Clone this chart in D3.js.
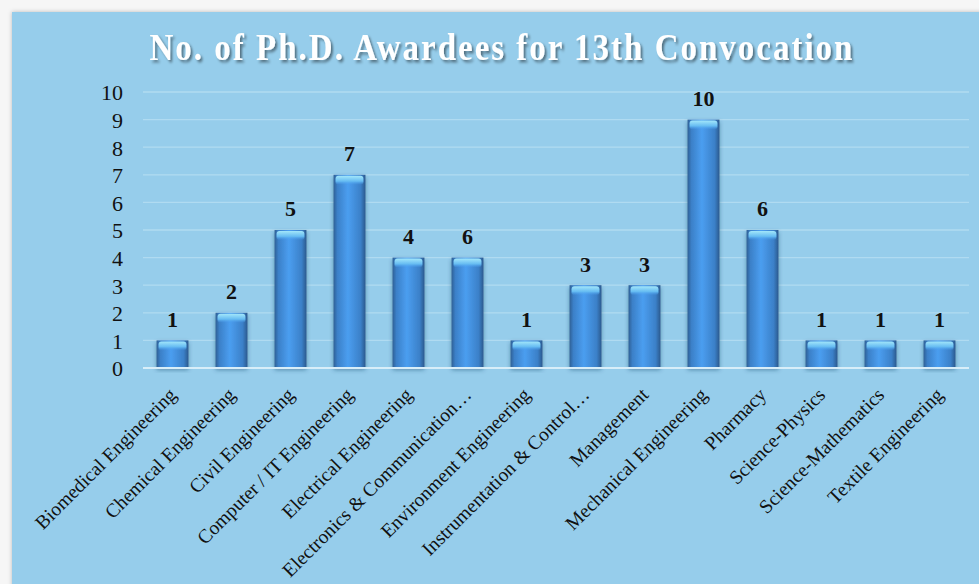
<!DOCTYPE html>
<html>
<head>
<meta charset="utf-8">
<script src="https://cdn.jsdelivr.net/npm/d3@7"></script>
<style>
  body { margin: 0; background: #f6f6f6; }
  svg { display: block; }
</style>
</head>
<body>
<svg id="chart" width="979" height="584"></svg>
<script>
// categories (x axis, truncated as in the chart)
const departments = [
    'Biomedical Engineering', 'Chemical Engineering', 'Civil Engineering',
    'Computer / IT Engineering', 'Electrical Engineering', 'Electronics & Communication\u2026',
    'Environment Engineering', 'Instrumentation & Control\u2026', 'Management',
    'Mechanical Engineering', 'Pharmacy', 'Science-Physics', 'Science-Mathematics',
    'Textile Engineering'
];
// bar heights as drawn
const barValues = [1, 2, 5, 7, 4, 4, 1, 3, 3, 9, 5, 1, 1, 1];
// data labels as printed above the bars
const labelValues = [1, 2, 5, 7, 4, 6, 1, 3, 3, 10, 6, 1, 1, 1];
const yTicks = [0, 1, 2, 3, 4, 5, 6, 7, 8, 9, 10];
const title = 'No. of Ph.D. Awardees for 13th Convocation';

const svg = d3.select('#chart');
const plot = { left: 143, right: 969, top: 92, bottom: 368 };

const defs = svg.append('defs');

const panelShadow = defs.append('filter').attr('id', 'panelShadow')
    .attr('x', '-5%').attr('y', '-5%').attr('width', '110%').attr('height', '110%');
panelShadow.append('feDropShadow').attr('dx', 0).attr('dy', 0)
    .attr('stdDeviation', 2).attr('flood-color', '#000').attr('flood-opacity', 0.25);

const titleShadow = defs.append('filter').attr('id', 'titleShadow');
titleShadow.append('feDropShadow').attr('dx', 2).attr('dy', 2)
    .attr('stdDeviation', 1.2).attr('flood-color', '#000').attr('flood-opacity', 0.45);

const barShadow = defs.append('filter').attr('id', 'barShadow')
    .attr('x', '-30%').attr('y', '-10%').attr('width', '160%').attr('height', '125%');
barShadow.append('feDropShadow').attr('dx', 0).attr('dy', 2)
    .attr('stdDeviation', 2).attr('flood-color', '#1d3d5e').attr('flood-opacity', 0.45);

// horizontal gradient for bar body
const bodyGrad = defs.append('linearGradient').attr('id', 'barBody')
    .attr('x1', '0%').attr('x2', '100%').attr('y1', '0%').attr('y2', '0%');
bodyGrad.append('stop').attr('offset', '0%').attr('stop-color', '#2d5f95');
bodyGrad.append('stop').attr('offset', '12%').attr('stop-color', '#3b80c8');
bodyGrad.append('stop').attr('offset', '45%').attr('stop-color', '#4b9ef0');
bodyGrad.append('stop').attr('offset', '85%').attr('stop-color', '#3b80c8');
bodyGrad.append('stop').attr('offset', '100%').attr('stop-color', '#2a5a8e');

// top bevel highlight
const capGrad = defs.append('linearGradient').attr('id', 'barCap')
    .attr('x1', '0%').attr('x2', '0%').attr('y1', '0%').attr('y2', '100%');
capGrad.append('stop').attr('offset', '0%').attr('stop-color', '#a2e6fa');
capGrad.append('stop').attr('offset', '60%').attr('stop-color', '#66bcf2');
capGrad.append('stop').attr('offset', '100%').attr('stop-color', '#4b9ef0').attr('stop-opacity', 0);

// chart panel
svg.append('rect')
    .attr('x', 12).attr('y', 12)
    .attr('width', 979).attr('height', 584)
    .attr('fill', '#96cdeb')
    .attr('filter', 'url(#panelShadow)');

// title (tall, slightly spaced lettering)
svg.append('text')
    .attr('text-anchor', 'middle')
    .attr('transform', 'translate(502,60) scale(1,1.15)')
    .style('font-family', 'Liberation Serif')
    .style('font-weight', 'bold')
    .style('font-size', '33px')
    .style('letter-spacing', '2px')
    .attr('fill', '#ffffff')
    .attr('filter', 'url(#titleShadow)')
    .text(title);

const x = d3.scaleBand()
    .domain(departments)
    .range([plot.left, plot.right])
    .paddingInner(0.46)
    .paddingOuter(0.23);

const y = d3.scaleLinear()
    .domain([0, 10])
    .range([plot.bottom, plot.top]);

// gridlines
svg.append('g')
    .selectAll('line')
    .data(yTicks.filter(d => d > 0))
    .enter()
    .append('line')
    .attr('x1', plot.left)
    .attr('x2', plot.right)
    .attr('y1', d => y(d))
    .attr('y2', d => y(d))
    .attr('stroke', '#b0dbf1')
    .attr('stroke-width', 1.3);

// y axis
const yAxis = svg.append('g')
    .attr('transform', 'translate(' + (plot.left - 20) + ',0)')
    .call(d3.axisLeft(y).tickValues(yTicks).tickSize(0).tickPadding(0));
yAxis.select('.domain').remove();
yAxis.selectAll('text')
    .style('font-family', 'Liberation Serif')
    .style('font-size', '22px')
    .attr('fill', '#111')
    .attr('dy', '0.36em');

// bars
const bars = svg.append('g')
    .selectAll('g')
    .data(departments)
    .enter()
    .append('g');

bars.append('rect')
    .attr('x', d => x(d))
    .attr('y', (d, i) => y(barValues[i]))
    .attr('width', x.bandwidth())
    .attr('height', (d, i) => y(0) - y(barValues[i]))
    .attr('fill', 'url(#barBody)')
    .attr('filter', 'url(#barShadow)');

bars.append('rect')
    .attr('x', d => x(d) + 2)
    .attr('y', (d, i) => y(barValues[i]) + 1)
    .attr('width', x.bandwidth() - 4)
    .attr('height', 9)
    .attr('rx', 3)
    .attr('fill', 'url(#barCap)');

// data labels
bars.append('text')
    .attr('x', d => x(d) + x.bandwidth() / 2)
    .attr('y', (d, i) => y(barValues[i]) - 29)
    .attr('text-anchor', 'middle')
    .style('font-family', 'Liberation Serif')
    .style('font-weight', 'bold')
    .style('font-size', '22px')
    .attr('fill', '#111')
    .attr('dy', '0.7em')
    .text((d, i) => labelValues[i]);

// baseline
svg.append('line')
    .attr('x1', plot.left)
    .attr('x2', plot.right)
    .attr('y1', y(0))
    .attr('y2', y(0))
    .attr('stroke', '#d8eef9')
    .attr('stroke-width', 2);

// x axis labels
const xAxis = svg.append('g')
    .attr('transform', 'translate(0,' + y(0) + ')')
    .call(d3.axisBottom(x).tickSize(0).tickPadding(0));
xAxis.select('.domain').remove();
xAxis.selectAll('text')
    .style('font-family', 'Liberation Serif')
    .style('font-size', '19.5px')
    .attr('fill', '#111')
    .attr('text-anchor', 'end')
    .attr('dy', 0)
    .attr('transform', 'translate(5,28) rotate(-45)');
</script>
</body>
</html>
